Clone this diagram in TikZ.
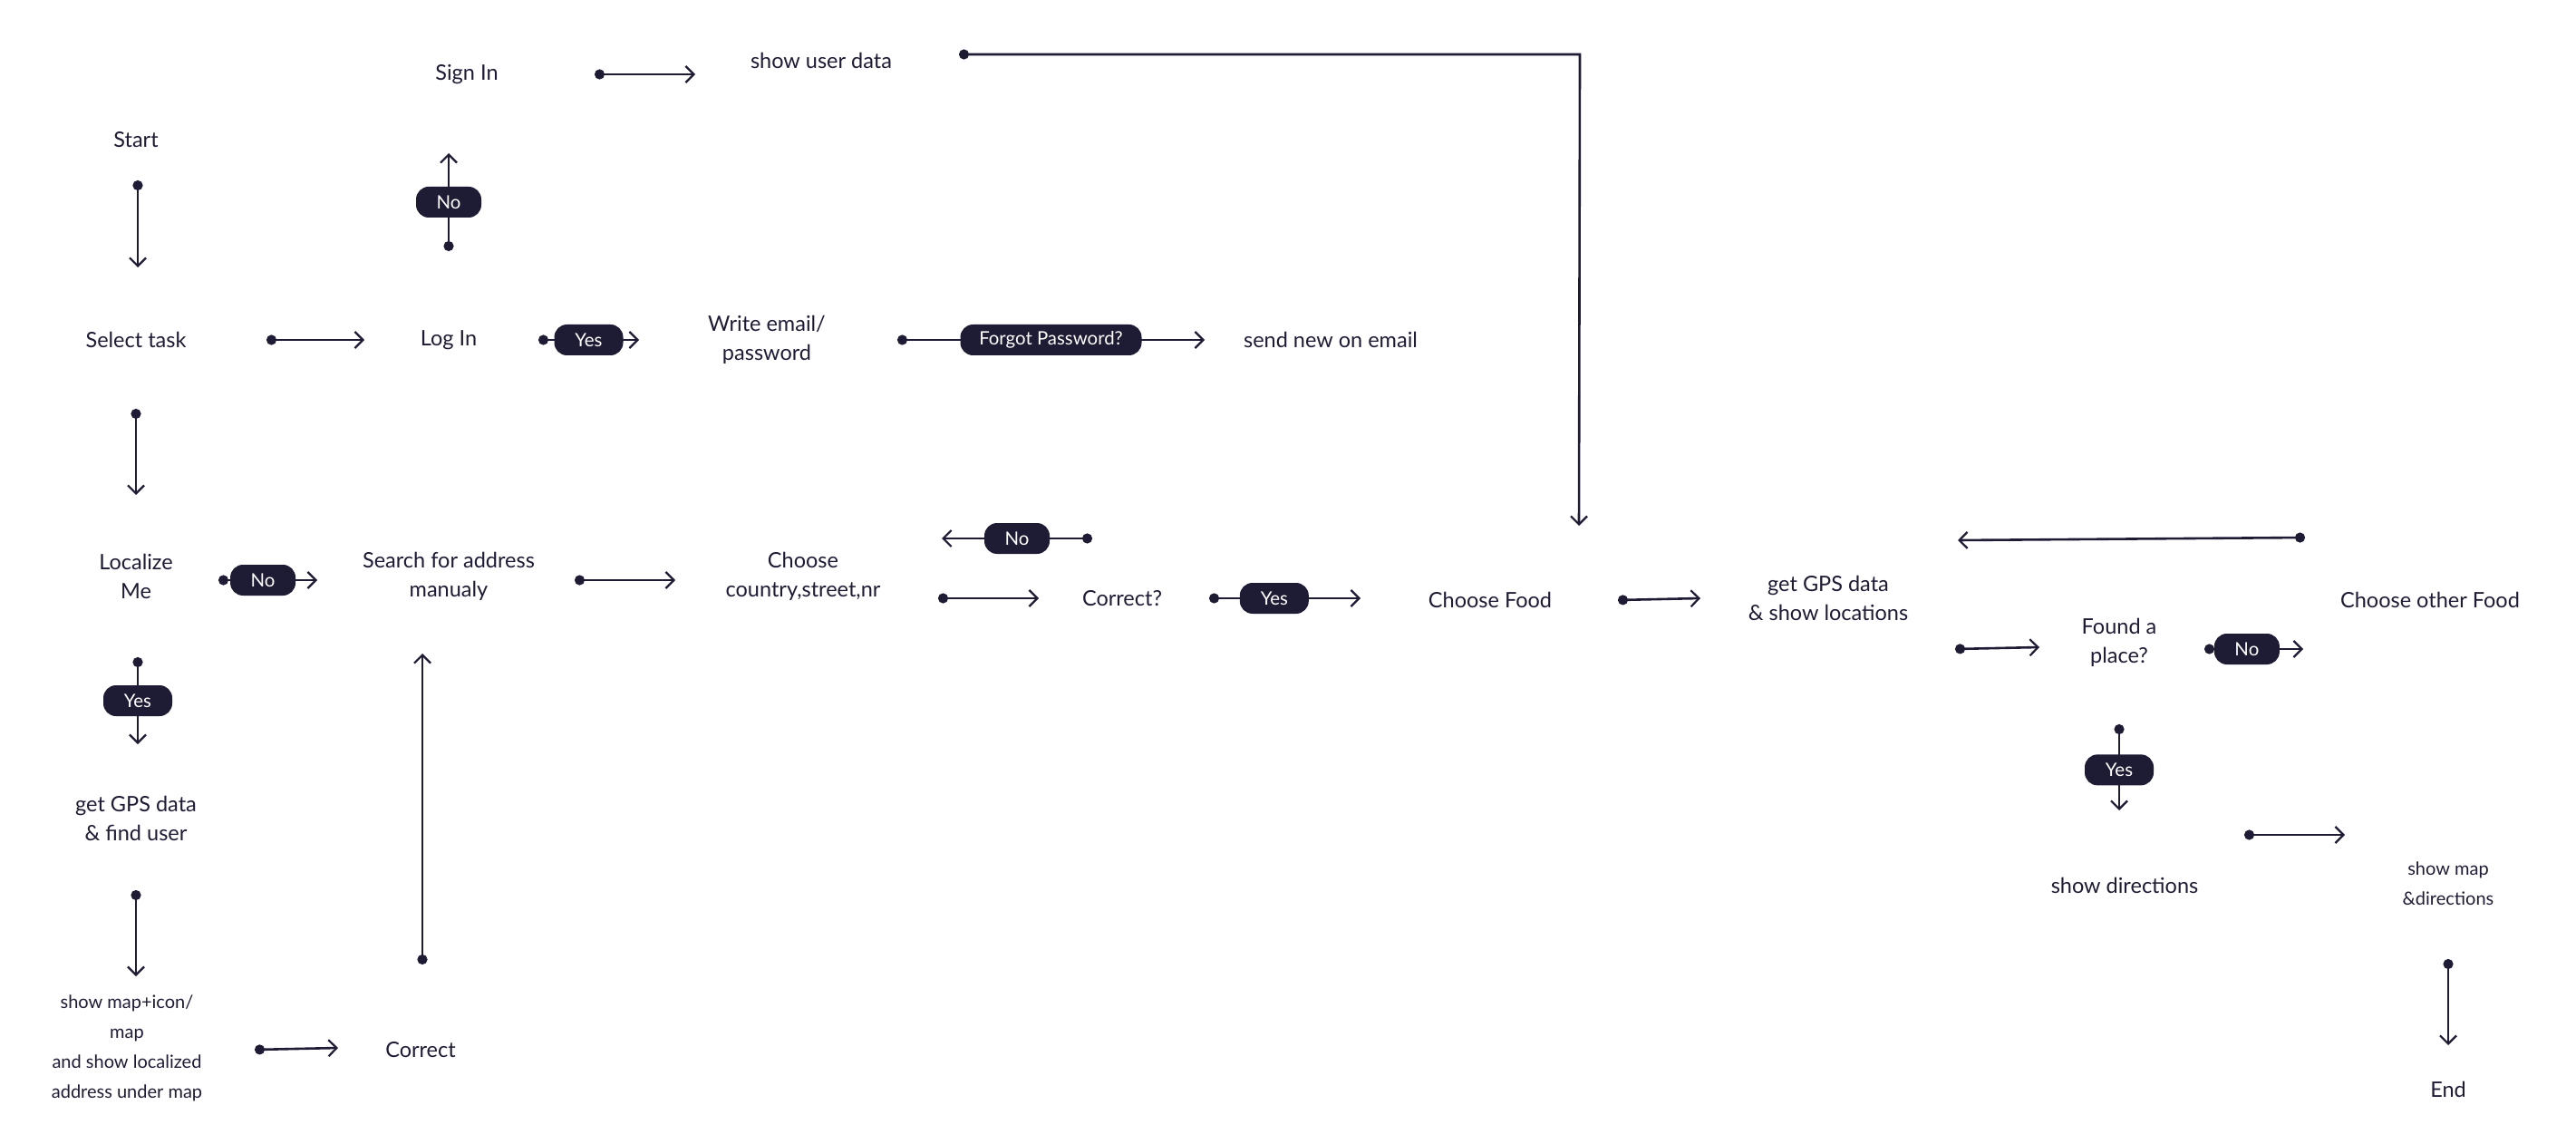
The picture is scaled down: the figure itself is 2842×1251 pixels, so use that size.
\documentclass[tikz,border=0pt]{standalone}
\usepackage{fontspec}
\setmainfont{Lato}
\usetikzlibrary{arrows.meta}
\definecolor{ink}{RGB}{30,27,52}
\begin{document}
\begin{tikzpicture}[x=0.5pt,y=-0.5pt,
  lbl/.style={text=ink,font=\fontsize{11.75}{16}\selectfont,align=center,inner sep=1pt},
  smalllbl/.style={text=ink,font=\fontsize{10}{16.5}\selectfont,align=center,inner sep=1pt},
  pill/.style={fill=ink,text=white,rounded corners=7pt,font=\fontsize{10.2}{12}\selectfont,minimum height=17pt,inner xsep=4pt,inner ysep=0pt},
  conn/.style={draw=ink,line width=1.3pt,{Circle[length=5.5pt]}-{Straight Barb[length=4.5pt,width=9pt,line width=1.1pt]}}]
\useasboundingbox (0,0) rectangle (2842,1251);
% nodes
\node[lbl] (start) at (150,154) {Start};
\node[lbl] (signin) at (515,82) {Sign In};
\node[lbl] (userdata) at (906,67) {show user data};
\node[lbl] (select) at (150,375) {Select task};
\node[lbl] (login) at (495,375) {Log In};
\node[lbl] (write) at (846,375) {Write email/\\password};
\node[lbl] (sendnew) at (1468,375) {send new on email};
\node[lbl] (localize) at (150,636) {Localize\\Me};
\node[lbl] (search) at (495,636) {Search for address\\manualy};
\node[lbl] (country) at (886,636) {Choose\\country,street,nr};
\node[lbl] (correctq) at (1238,660) {Correct?};
\node[lbl] (food) at (1644,662) {Choose Food};
\node[lbl] (gpsloc) at (2017,660) {get GPS data\\\& show locations};
\node[lbl] (found) at (2338,709) {Found a\\place?};
\node[lbl] (other) at (2681,662) {Choose other Food};
\node[lbl] (gpsuser) at (150,903) {get GPS data\\\& find user};
\node[smalllbl] (showmap) at (140,1156) {show map+icon/\\map\\and show localized\\address under map};
\node[lbl] (correct) at (464,1158) {Correct};
\node[lbl] (directions) at (2344,977) {show directions};
\node[smalllbl] (mapdir) at (2701,975) {show map\\\&directions};
\node[lbl] (endn) at (2701,1202) {End};
% connector end points
\coordinate (a1) at (152,199);  \coordinate (b1) at (152,295);
\coordinate (a2) at (294,375);  \coordinate (b2) at (402,375);
\coordinate (a3) at (495,277);  \coordinate (b3) at (495,169);
\coordinate (a4) at (656,82);   \coordinate (b4) at (767,82);
\coordinate (a5) at (1058,60);  \coordinate (k5) at (1743,60); \coordinate (b5) at (1742,580);
\coordinate (a6) at (594,375);  \coordinate (b6) at (705,375);
\coordinate (a7) at (990,375);  \coordinate (b7) at (1329,375);
\coordinate (a8) at (150,451);  \coordinate (b8) at (150,546);
\coordinate (a9) at (241,640);  \coordinate (b9) at (350,640);
\coordinate (a10) at (634,640); \coordinate (b10) at (745,640);
\coordinate (a11) at (1035,660); \coordinate (b11) at (1146,660);
\coordinate (a12) at (1205,594); \coordinate (b12) at (1039,594);
\coordinate (a13) at (1334,660); \coordinate (b13) at (1501,660);
\coordinate (a14) at (1785,662); \coordinate (b14) at (1876,660);
\coordinate (a15) at (2157,716); \coordinate (b15) at (2250,714);
\coordinate (a16) at (2432,716); \coordinate (b16) at (2541,716);
\coordinate (a17) at (2543,593); \coordinate (b17) at (2160,596);
\coordinate (a18) at (2338,799); \coordinate (b18) at (2338,894);
\coordinate (a19) at (2476,921); \coordinate (b19) at (2587,921);
\coordinate (a20) at (2701,1058); \coordinate (b20) at (2701,1153);
\coordinate (a21) at (152,725); \coordinate (b21) at (152,821);
\coordinate (a22) at (150,982); \coordinate (b22) at (150,1077);
\coordinate (a23) at (281,1158); \coordinate (b23) at (373,1156);
\coordinate (a24) at (466,1064); \coordinate (b24) at (466,721);
% connectors
\draw[conn] (a1) -- (b1);
\draw[conn] (a2) -- (b2);
\draw[conn] (a3) -- node[pill,minimum width=36pt] (p3) {No} (b3);
\draw[conn] (a4) -- (b4);
\draw[conn] (a5) -- (k5) -- (b5);
\draw[conn] (a6) -- node[pill,minimum width=38pt] (p6) {Yes} (b6);
\draw[conn] (a7) -- node[pill,minimum width=100pt] (p7) {Forgot Password?} (b7);
\draw[conn] (a8) -- (b8);
\draw[conn] (a9) -- node[pill,minimum width=36pt,pos=0.45] (p9) {No} (b9);
\draw[conn] (a10) -- (b10);
\draw[conn] (a11) -- (b11);
\draw[conn] (a12) -- node[pill,minimum width=36pt] (p12) {No} (b12);
\draw[conn] (a13) -- node[pill,minimum width=38pt,pos=0.43] (p13) {Yes} (b13);
\draw[conn] (a14) -- (b14);
\draw[conn] (a15) -- (b15);
\draw[conn] (a16) -- node[pill,minimum width=36pt,pos=0.43] (p16) {No} (b16);
\draw[conn] (a17) -- (b17);
\draw[conn] (a18) -- node[pill,minimum width=38pt,pos=0.53] (p18) {Yes} (b18);
\draw[conn] (a19) -- (b19);
\draw[conn] (a20) -- (b20);
\draw[conn] (a21) -- node[pill,minimum width=38pt] (p21) {Yes} (b21);
\draw[conn] (a22) -- (b22);
\draw[conn] (a23) -- (b23);
\draw[conn] (a24) -- (b24);
\end{tikzpicture}
\end{document}
